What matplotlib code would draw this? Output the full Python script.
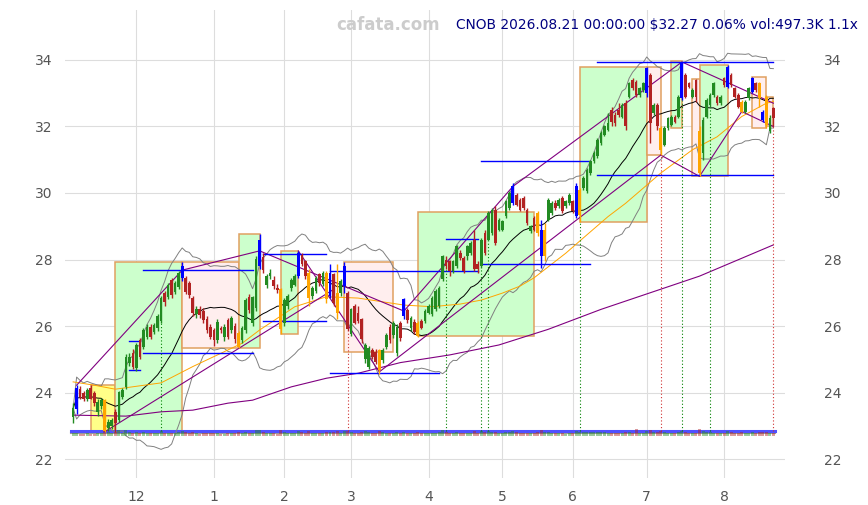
import numpy as np
import pandas as pd
import matplotlib
matplotlib.use("Agg")
from matplotlib import pyplot as plt
from matplotlib.patches import Rectangle

holidays = ["2025-11-27", "2025-12-25", "2026-01-01", "2026-01-19", "2026-02-16",
            "2026-04-03", "2026-05-25", "2026-06-19", "2026-07-03"]
dates = pd.bdate_range("2025-11-04", "2026-08-21", freq="C", holidays=holidays)

# (open, high, low, close) per trading day, month by month
nov = [(23.25, 23.68, 23.07, 23.52), (23.50, 24.22, 23.35, 24.15), (24.12, 24.20, 23.80, 23.87),
       (24.00, 24.05, 23.75, 23.82), (23.82, 24.15, 23.75, 24.09), (24.15, 24.22, 23.80, 23.82),
       (24.00, 24.05, 23.60, 23.67), (23.40, 23.80, 23.30, 23.72), (23.60, 23.85, 23.50, 23.77),
       (23.77, 23.80, 22.80, 22.85), (22.92, 23.20, 22.85, 23.12), (23.00, 23.22, 22.90, 23.17),
       (23.42, 23.50, 22.82, 23.07), (23.17, 24.05, 23.10, 24.02), (23.87, 24.15, 23.80, 24.07),
       (24.17, 25.15, 24.10, 25.08), (24.88, 25.20, 24.80, 25.08), (25.18, 25.30, 24.70, 24.78)]
dec = [(24.73, 25.50, 24.65, 25.43), (25.58, 25.65, 25.00, 25.08), (25.38, 25.95, 25.30, 25.88),
       (25.68, 26.05, 25.60, 25.98), (25.96, 26.05, 25.60, 25.68), (25.83, 26.10, 25.75, 26.03),
       (25.93, 26.35, 25.85, 26.30), (26.15, 26.90, 26.10, 26.85), (26.99, 27.05, 26.60, 26.73),
       (26.88, 27.30, 26.80, 27.24), (27.38, 27.45, 26.85, 26.93), (27.03, 27.35, 26.95, 27.28),
       (27.18, 27.65, 27.10, 27.58), (27.45, 27.93, 27.35, 27.80), (27.43, 27.50, 26.95, 27.03),
       (27.28, 27.35, 26.85, 26.93), (26.83, 26.90, 26.30, 26.38), (26.35, 26.60, 26.25, 26.50),
       (26.50, 26.60, 26.25, 26.33), (26.45, 26.55, 26.10, 26.18), (26.20, 26.30, 25.80, 25.88),
       (25.98, 26.05, 25.60, 25.68)]
jan = [(25.88, 25.95, 25.40, 25.58), (25.58, 26.20, 25.50, 26.13), (25.93, 26.00, 25.80, 25.88),
       (25.68, 26.05, 25.55, 25.98), (26.18, 26.25, 25.60, 25.68), (25.88, 26.30, 25.80, 26.23),
       (26.00, 26.10, 25.50, 25.60), (25.78, 25.85, 25.33, 25.38), (25.58, 26.00, 25.50, 25.93),
       (25.88, 26.85, 25.80, 26.78), (26.88, 26.95, 26.40, 26.48), (26.08, 26.90, 26.00, 26.88),
       (26.53, 28.10, 26.45, 28.03), (27.80, 28.76, 27.70, 28.60), (28.09, 28.20, 27.60, 27.69),
       (27.24, 27.55, 27.15, 27.49), (27.49, 27.70, 27.40, 27.59), (27.39, 27.50, 27.10, 27.19),
       (27.14, 27.25, 27.00, 27.09), (27.10, 27.14, 25.76, 25.90)]
feb = [(26.09, 26.85, 26.00, 26.79), (26.59, 26.95, 26.50, 26.89), (27.14, 27.45, 27.05, 27.39),
       (27.24, 27.55, 27.20, 27.49), (27.50, 28.26, 27.45, 28.20), (28.15, 28.20, 27.80, 27.85),
       (27.95, 28.00, 27.40, 27.50), (27.60, 27.70, 26.60, 26.85), (26.90, 27.20, 26.80, 27.15),
       (27.05, 27.50, 27.00, 27.45), (27.55, 27.60, 27.20, 27.30), (27.25, 27.65, 27.20, 27.60),
       (27.60, 27.65, 26.70, 26.80), (26.90, 27.85, 26.85, 27.60), (27.55, 27.60, 26.60, 26.70),
       (27.00, 27.85, 26.20, 26.40), (27.00, 27.40, 26.90, 27.35), (27.20, 27.93, 27.00, 27.80),
       (27.00, 27.05, 25.85, 25.90)]
mar = [(25.75, 26.55, 25.70, 26.50), (26.60, 26.65, 26.05, 26.10), (26.40, 26.60, 26.10, 26.15),
       (26.20, 26.25, 25.50, 25.60), (25.00, 25.50, 24.90, 25.43), (24.78, 25.40, 24.70, 25.33),
       (25.28, 25.35, 25.00, 25.08), (25.23, 25.30, 24.85, 24.93), (25.28, 25.30, 24.55, 24.68),
       (24.98, 25.35, 24.90, 25.28), (25.38, 25.80, 25.30, 25.73), (25.98, 26.05, 25.50, 25.58),
       (25.73, 26.15, 25.65, 26.08), (25.18, 26.05, 25.10, 25.98), (26.08, 26.15, 25.55, 25.63),
       (26.30, 26.85, 26.20, 26.80), (26.48, 26.55, 26.10, 26.18), (25.93, 26.30, 25.85, 26.23),
       (26.13, 26.20, 25.75, 25.83), (26.10, 26.15, 25.68, 25.70), (26.15, 26.20, 25.90, 25.95),
       (26.15, 26.50, 26.10, 26.45)]
apr = [(26.40, 26.65, 26.35, 26.60), (26.35, 26.90, 26.30, 26.85), (26.50, 27.10, 26.45, 27.05),
       (26.60, 27.20, 26.55, 27.15), (27.40, 28.15, 27.35, 28.10), (28.00, 28.10, 27.70, 27.80),
       (27.95, 28.00, 27.50, 27.65), (27.65, 28.00, 27.60, 27.95), (27.80, 28.45, 27.75, 28.40),
       (28.20, 28.30, 28.00, 28.05), (28.05, 28.10, 27.60, 27.65), (28.10, 28.45, 28.00, 28.40),
       (28.20, 28.55, 28.15, 28.50), (28.60, 28.90, 27.65, 27.70), (27.85, 27.95, 27.60, 27.70),
       (27.80, 28.65, 27.75, 28.60), (28.80, 28.90, 28.15, 28.20), (28.60, 29.45, 28.55, 29.40),
       (28.80, 29.55, 28.75, 29.50), (29.50, 29.60, 28.45, 28.50), (28.90, 29.25, 28.85, 29.20)]
may = [(28.90, 29.20, 28.85, 29.15), (29.30, 29.80, 29.25, 29.75), (29.55, 30.05, 29.50, 30.00),
       (29.70, 30.30, 29.65, 30.20), (29.95, 30.00, 29.60, 29.65), (29.80, 29.85, 29.45, 29.50),
       (29.85, 29.90, 29.50, 29.55), (29.50, 29.55, 29.05, 29.10), (28.85, 29.05, 28.80, 29.00),
       (29.25, 29.30, 28.85, 28.90), (29.40, 29.45, 28.70, 28.80), (28.90, 29.20, 27.75, 28.10),
       (28.10, 29.10, 27.95, 28.90), (29.20, 29.85, 29.15, 29.80), (29.40, 29.75, 29.35, 29.70),
       (29.70, 29.80, 29.50, 29.55), (29.60, 29.85, 29.55, 29.80), (29.85, 29.90, 29.40, 29.45),
       (29.60, 29.80, 29.55, 29.75), (29.70, 30.00, 29.65, 29.95)]
jun = [(29.75, 29.80, 29.40, 29.45), (29.30, 30.30, 29.25, 30.20), (29.35, 30.15, 29.14, 30.10),
       (30.15, 30.50, 30.10, 30.45), (30.05, 30.75, 30.00, 30.70), (30.60, 31.00, 30.55, 30.95),
       (30.95, 31.25, 30.90, 31.20), (31.10, 31.65, 31.05, 31.60), (31.50, 31.85, 31.45, 31.80),
       (31.75, 32.05, 31.70, 32.00), (31.90, 32.40, 31.85, 32.10), (32.50, 32.60, 32.00, 32.15),
       (32.35, 32.45, 32.00, 32.10), (32.50, 32.70, 32.30, 32.35), (32.30, 32.70, 32.25, 32.65),
       (32.70, 32.80, 31.90, 32.00), (32.90, 33.35, 32.85, 33.30), (33.40, 33.45, 33.10, 33.15),
       (33.35, 33.40, 32.90, 32.95), (32.95, 33.20, 32.90, 33.15), (33.10, 33.35, 33.05, 33.30)]
jul = [(33.00, 33.80, 32.90, 33.75), (33.55, 33.60, 31.50, 32.10), (32.40, 32.70, 32.35, 32.65),
       (32.65, 32.70, 31.90, 32.00), (31.95, 32.00, 31.14, 31.30), (31.45, 32.00, 31.40, 31.95),
       (31.95, 32.30, 31.90, 32.25), (32.05, 32.35, 32.00, 32.30), (32.30, 32.35, 32.10, 32.15),
       (32.30, 32.95, 32.25, 32.90), (32.85, 33.95, 32.80, 33.90), (33.55, 33.60, 32.85, 32.90),
       (33.30, 33.35, 33.15, 33.20), (32.90, 33.15, 32.85, 33.10), (33.40, 33.43, 32.75, 32.90),
       (31.85, 32.00, 30.50, 30.60), (31.20, 32.30, 31.00, 32.20), (32.30, 32.85, 32.25, 32.80),
       (32.65, 33.00, 32.60, 32.95), (32.95, 33.35, 32.90, 33.30), (32.90, 32.95, 32.65, 32.70),
       (32.70, 32.95, 32.65, 32.90)]
aug = [(33.45, 33.50, 33.20, 33.25), (33.20, 33.85, 33.15, 33.80), (33.55, 33.60, 33.20, 33.25),
       (33.15, 33.20, 32.85, 32.90), (32.95, 33.00, 32.55, 32.60), (32.75, 32.80, 32.40, 32.45),
       (32.45, 32.80, 32.40, 32.75), (32.85, 33.20, 32.80, 33.15), (33.05, 33.50, 33.00, 33.45),
       (33.30, 33.35, 33.05, 33.10), (33.30, 33.35, 32.60, 32.85), (32.45, 32.50, 32.15, 32.20),
       (32.90, 32.95, 31.95, 32.05), (31.85, 32.35, 31.80, 32.25), (32.55, 32.60, 32.00, 32.27)]

# volume in thousands
volumes = [420, 510, 380, 350, 400, 330, 360, 410, 390, 820, 560, 430, 610, 980, 520, 890, 540, 470, 620, 510,
           560, 430, 390, 410, 460, 700, 480, 450, 520, 430, 560, 690, 610, 480, 590, 400, 380, 420, 470, 510,
           530, 480, 350, 370, 460, 410, 440, 560, 430, 640, 480, 520, 900, 860, 620, 470, 390, 410, 380, 880,
           620, 460, 500, 420, 730, 540, 500, 690, 430, 450, 410, 440, 620, 660, 580, 720, 470, 690, 830, 600,
           520, 460, 640, 710, 580, 490, 520, 760, 540, 510, 470, 500, 620, 480, 650, 440, 430, 460, 580, 420,
           450, 400, 470, 520, 560, 840, 610, 480, 430, 590, 450, 510, 520, 480, 760, 520, 690, 560, 720, 620,
           680, 470, 430, 560, 610, 720, 540, 480, 450, 500, 420, 470, 580, 900, 680, 560, 430, 400, 390, 450,
           380, 410, 460, 700, 640, 560, 590, 610, 570, 640, 600, 550, 530, 480, 450, 420, 470, 600, 580, 490,
           1100, 450, 470, 720, 980, 560, 620, 780, 600, 480, 430, 420, 560, 760, 640, 450, 430, 520, 1050, 820,
           620, 540, 500, 450, 430, 480, 690, 560, 470, 520, 580, 450, 480, 560, 430, 610, 540, 650, 480, 497]

# swing candles drawn in blue (highs) and orange (lows)
blue_bars = [1, 31, 53, 64, 73, 77, 94, 125, 133, 143, 163, 173, 186, 193, 196]
orange_bars = [9, 47, 59, 67, 72, 75, 87, 98, 132, 134, 144, 167, 178, 190, 195, 197]

# zones: (first bar, last bar, low, high, kind)
zones = [(5, 12, 22.80, 24.22, "y"), (12, 31, 22.82, 27.93, "up"), (31, 47, 25.33, 27.93, "dn"),
         (47, 53, 25.33, 28.76, "up"), (59, 64, 25.76, 28.26, "up"), (77, 91, 25.21, 27.92, "dn"),
         (98, 131, 25.70, 29.43, "up"), (144, 163, 29.14, 33.80, "up"), (163, 167, 31.14, 33.80, "dn"),
         (170, 173, 31.95, 33.97, "up"), (176, 178, 30.50, 33.43, "dn"), (178, 186, 30.50, 33.85, "up"),
         (193, 197, 31.95, 33.50, "dn"), (197, 199, 32.00, 32.90, "dn")]

# support / resistance levels: (first bar, last bar, price)
levels = [(16, 19, 25.55), (16, 19, 24.68), (20, 51, 27.68), (20, 51, 25.19), (54, 72, 28.17),
          (54, 72, 26.15), (73, 115, 27.65), (73, 104, 24.59), (106, 115, 28.62), (116, 147, 27.86),
          (116, 147, 30.97), (149, 199, 33.94), (149, 199, 30.54)]

# trend lines (bar, price) vertices
upper_zig = [(1, 24.22), (31, 27.68), (53, 28.26), (94, 26.45), (125, 30.20), (173, 33.94), (199, 32.70)]
lower_zig = [(167, 31.14), (178, 30.50), (190, 32.45), (199, 32.00)]
trend_segs = [((9, 22.82), (74, 27.10)), ((64, 28.26), (87, 24.62)), ((87, 24.62), (167, 31.14))]

# slow averages (bar, price)
orange_ma = [(0, 24.32), (6, 24.22), (12, 24.10), (25, 24.29), (34, 24.78), (48, 25.48), (53, 25.88),
             (63, 26.58), (72, 26.88), (81, 26.84), (94, 26.63), (102, 26.58), (110, 26.66), (116, 26.78),
             (122, 26.99), (127, 27.20), (131, 27.45), (140, 28.19), (145, 28.65), (152, 29.29),
             (157, 29.69), (167, 30.60), (176, 31.30), (183, 31.69), (190, 32.30), (197, 32.70), (199, 32.75)]
purple_ma = [(0, 23.32), (15, 23.29), (25, 23.42), (34, 23.47), (44, 23.68), (51, 23.77), (62, 24.17),
             (72, 24.43), (81, 24.58), (93, 24.90), (107, 25.13), (121, 25.43), (135, 25.90), (150, 26.50),
             (164, 27.00), (178, 27.50), (199, 28.44)]

green_marks = [25, 106, 116, 118, 144, 173, 181]
red_marks = [78, 167, 199]

rows = nov + dec + jan + feb + mar + apr + may + jun + jul + aug
o, h, l, c = (np.array(v) for v in zip(*rows))
x = np.arange(len(rows))
vol = np.array(volumes, dtype=float)

s = pd.Series(c)
ma20 = s.rolling(20, min_periods=1).mean()
sd20 = s.rolling(20, min_periods=1).std(ddof=0)

GREEN = "#228b22"
RED = "#b22222"

fig = plt.figure(figsize=(8.68, 5.05), dpi=100)
ax = fig.add_axes([0.0749, 0.0535, 0.8295, 0.9265])
ax.set_xlim(-2.3, 202.3)
ax.set_ylim(21.43, 35.5)

# month ticks
month_first = [i for i in range(1, len(dates)) if dates[i].month != dates[i - 1].month]
ax.set_xticks(month_first)
ax.set_xticklabels([str(dates[i].month) for i in month_first])
yt = np.arange(22, 35, 2)
ax.set_yticks(yt)
ax.grid(True, color="#dddddd", lw=0.8)
ax.set_axisbelow(True)
for sp in ax.spines.values():
    sp.set_visible(False)
ax.tick_params(length=0, labelsize=10, colors="#555555", pad=9)

# zones
fills = {"y": "#ffff88", "up": "#ccffcc", "dn": "#ffeeee"}
for a, b, lo, hi, kind in zones:
    ax.add_patch(Rectangle((a, lo), b - a, hi - lo, facecolor=fills[kind],
                           edgecolor="#e0a060", lw=1.1, zorder=1))

# bottom strip lines
ax.plot([x[0] - 0.5, x[-1] + 0.5], [22.77, 22.77], color="#999999", lw=1.5, zorder=2)
ax.plot([x[0] - 0.5, x[-1] + 0.5], [22.83, 22.83], color="#5050ff", lw=2.2, zorder=2)

# averages and bands
ax.plot(x, ma20, color="black", lw=0.7, zorder=2)
ax.plot(x, ma20 + 2 * sd20, color="gray", lw=0.7, zorder=2)
ax.plot(x, ma20 - 2 * sd20, color="gray", lw=0.7, zorder=2)
ax.plot(*zip(*orange_ma), color="orange", lw=0.7, zorder=2)
ax.plot(*zip(*purple_ma), color="purple", lw=0.8, zorder=2)

# trend lines
ax.plot(*zip(*upper_zig), color="purple", lw=0.8, zorder=2)
ax.plot(*zip(*lower_zig), color="purple", lw=0.8, zorder=2)
for p0, p1 in trend_segs:
    ax.plot([p0[0], p1[0]], [p0[1], p1[1]], color="purple", lw=0.8, zorder=2)

for a, b, pr in levels:
    ax.plot([a, b], [pr, pr], color="#0000ff", lw=1.0, zorder=2)

for i in green_marks:
    ax.plot([i, i], [22.83, l[i]], color="green", lw=0.8, ls=(0, (1, 2)), zorder=2)
for i in red_marks:
    ax.plot([i, i], [22.83, l[i]], color="#d03030", lw=0.8, ls=(0, (1, 2)), zorder=2)

# volume strip at the bottom, drawn over the base lines
vbase = 22.69
vcol = [GREEN if c[i] >= o[i] else RED for i in x]
ax.bar(x, vol / vol.max() * 0.22, bottom=vbase, width=0.85, color=vcol, alpha=0.45, zorder=2.6)

# candles
cols = []
for i in x:
    if i in blue_bars:
        cols.append("blue")
    elif i in orange_bars:
        cols.append("orange")
    else:
        cols.append(GREEN if c[i] >= o[i] else RED)
ax.vlines(x, l, h, colors=cols, lw=1.0, zorder=3)
bot = np.minimum(o, c)
ht = np.maximum(np.abs(c - o), 0.03)
widths = [0.85 if cc in ("blue", "orange") else 0.75 for cc in cols]
ax.bar(x, ht, bottom=bot, width=widths, color=cols, zorder=4)

# right-hand price labels
ax2 = ax.twinx()
ax2.set_ylim(ax.get_ylim())
ax2.set_yticks(yt)
for sp in ax2.spines.values():
    sp.set_visible(False)
ax2.tick_params(length=0, labelsize=10, colors="#555555", pad=28)

fig.text(0.447, 0.950, "cafata.com", color="#cccccc", fontsize=12, fontweight="bold",
         ha="center", va="center")
fig.text(0.988, 0.950, "CNOB 2026.08.21 00:00:00 $32.27 0.06% vol:497.3K 1.1x",
         color="#000080", fontsize=9.9, ha="right", va="center")

fig.savefig("out.png", dpi=100)
